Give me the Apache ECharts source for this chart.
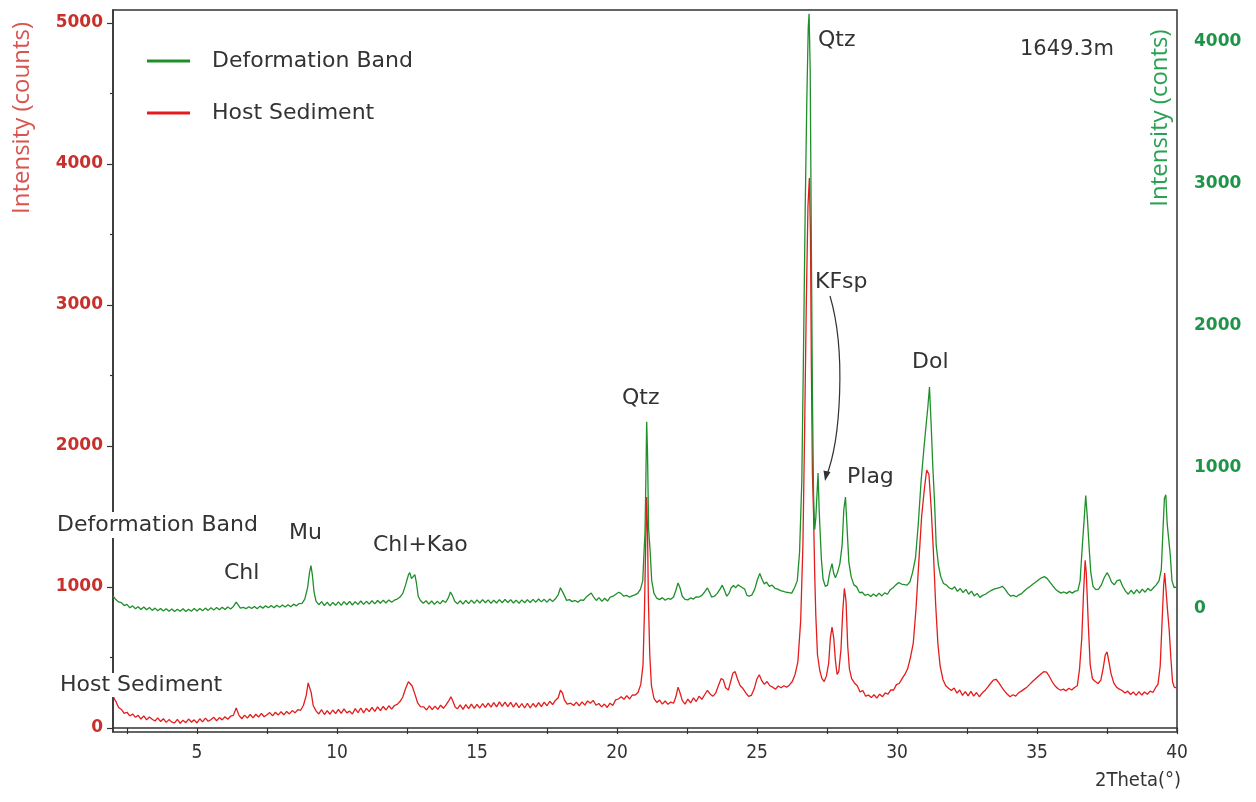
<!DOCTYPE html>
<html>
<head>
<meta charset="utf-8">
<script src="https://cdn.jsdelivr.net/npm/echarts@6/dist/echarts.min.js"></script>
<style>html,body{margin:0;padding:0;background:#fff}#chart{width:1256px;height:802px}</style>
</head>
<body>
<div id="chart"></div>
<script>
// ---- data (2Theta in degrees, intensity in counts) ----
const xTickValues = [2.5,5,7.5,10,12.5,15,17.5,20,22.5,25,27.5,30,32.5,35,37.5,40];
const xLabelValues = [5,10,15,20,25,30,35,40];
const leftLabelValues = [0,1000,2000,3000,4000,5000];
const leftMinorValues = [500,1500,2500,3500,4500];
const rightLabelValues = [0,1000,2000,3000,4000];

// Host Sediment (left axis)
const hostPattern = [
[2.00,234],[2.05,205],[2.10,190],[2.20,146],[2.30,132],[2.40,104],[2.50,112],[2.60,86],[2.70,100],[2.80,76],[2.90,90],
[3.00,64],[3.10,86],[3.20,58],[3.30,78],[3.40,62],[3.50,50],[3.60,72],[3.70,46],[3.80,66],[3.90,40],
[4.00,60],[4.10,42],[4.20,36],[4.30,62],[4.40,34],[4.50,56],[4.60,38],[4.70,64],[4.80,42],[4.90,58],
[5.00,36],[5.10,66],[5.20,44],[5.30,70],[5.40,48],[5.50,60],[5.60,76],[5.70,52],[5.80,74],[5.90,58],
[6.00,80],[6.10,62],[6.20,84],[6.30,90],[6.40,142],[6.45,128],[6.50,90],[6.60,66],[6.70,92],[6.80,70],[6.90,96],
[7.00,72],[7.10,98],[7.20,78],[7.30,104],[7.40,80],[7.50,94],[7.60,110],[7.70,86],[7.80,112],[7.90,92],
[8.00,116],[8.10,94],[8.20,118],[8.30,100],[8.40,124],[8.50,108],[8.60,130],[8.70,126],[8.80,160],[8.90,230],
[8.97,320],[9.02,330],[9.08,250],[9.15,160],[9.25,122],[9.35,100],[9.45,130],[9.55,96],[9.65,124],[9.75,98],[9.85,128],[9.95,102],
[10.05,132],[10.15,104],[10.25,136],[10.35,108],[10.45,120],[10.55,100],[10.65,138],[10.75,110],[10.85,142],[10.95,108],
[11.05,140],[11.15,116],[11.25,146],[11.35,118],[11.45,150],[11.55,124],[11.65,154],[11.75,128],[11.85,158],[11.95,134],
[12.05,160],[12.15,168],[12.25,188],[12.35,220],[12.45,280],[12.55,328],[12.62,320],[12.68,300],[12.74,290],[12.80,230],[12.88,178],[12.98,152],
[13.10,150],[13.20,128],[13.30,158],[13.40,130],[13.50,156],[13.60,132],[13.70,162],[13.80,140],[13.90,166],
[14.00,196],[14.07,222],[14.14,190],[14.22,150],[14.30,136],[14.40,164],[14.50,132],[14.60,166],[14.70,138],[14.80,170],[14.90,140],
[15.00,168],[15.10,142],[15.20,174],[15.30,146],[15.40,176],[15.50,148],[15.60,180],[15.70,150],[15.80,186],[15.90,154],
[16.00,184],[16.10,152],[16.20,182],[16.30,148],[16.40,178],[16.50,144],[16.60,174],[16.70,142],[16.80,176],[16.90,142],
[17.00,174],[17.10,148],[17.20,180],[17.30,152],[17.40,184],[17.50,158],[17.60,190],[17.70,166],[17.80,196],[17.90,215],
[17.98,268],[18.05,250],[18.12,200],[18.22,170],[18.35,176],[18.45,160],[18.55,184],[18.65,158],[18.75,186],[18.85,162],[18.95,192],
[19.05,176],[19.15,196],[19.25,162],[19.35,174],[19.45,150],[19.55,170],[19.65,146],[19.75,176],[19.85,160],[19.95,200],
[20.05,206],[20.15,222],[20.25,204],[20.35,230],[20.45,206],[20.55,236],[20.65,234],[20.75,252],[20.85,310],[20.93,450],[20.98,820],
[21.02,1250],[21.06,1638],[21.09,1400],[21.12,920],[21.17,520],[21.23,300],[21.32,210],[21.42,182],[21.52,198],[21.62,170],[21.72,192],[21.82,168],[21.92,184],
[22.02,176],[22.10,220],[22.18,290],[22.25,250],[22.33,196],[22.43,170],[22.53,206],[22.63,178],[22.73,214],[22.83,188],[22.93,226],
[23.03,204],[23.13,236],[23.23,268],[23.33,240],[23.43,226],[23.53,250],[23.62,300],[23.72,352],[23.80,340],[23.88,286],[23.98,270],
[24.06,330],[24.14,390],[24.22,400],[24.30,350],[24.40,300],[24.50,280],[24.60,250],[24.70,224],[24.80,232],[24.90,278],
[25.00,350],[25.08,378],[25.16,340],[25.26,310],[25.36,330],[25.46,300],[25.56,290],[25.66,276],[25.76,298],[25.86,286],[25.96,300],
[26.06,290],[26.16,306],[26.26,330],[26.36,380],[26.46,470],[26.56,760],[26.64,1300],[26.70,2100],[26.76,3000],[26.82,3700],[26.87,3900],
[26.91,3500],[26.94,2600],[26.98,1800],[27.02,1520],[27.06,1100],[27.10,800],[27.16,520],[27.24,410],[27.32,350],[27.40,330],[27.48,370],
[27.56,460],[27.62,640],[27.68,716],[27.74,640],[27.80,480],[27.86,380],[27.92,400],[28.00,560],[28.06,820],[28.12,990],[28.18,900],
[28.24,580],[28.30,420],[28.38,350],[28.48,320],[28.58,300],[28.68,256],[28.78,266],[28.88,226],[28.98,234],
[29.08,216],[29.18,236],[29.28,212],[29.38,240],[29.48,222],[29.58,250],[29.68,240],[29.78,270],[29.88,270],[29.98,308],
[30.08,316],[30.18,350],[30.28,380],[30.38,420],[30.48,500],[30.58,600],[30.68,850],[30.78,1180],[30.88,1500],[30.98,1700],
[31.06,1830],[31.14,1800],[31.22,1560],[31.30,1250],[31.38,880],[31.46,600],[31.54,440],[31.64,345],[31.74,300],[31.84,282],[31.94,266],
[32.04,284],[32.14,248],[32.24,270],[32.34,232],[32.44,258],[32.54,228],[32.64,260],[32.74,226],[32.84,252],[32.94,222],
[33.04,248],[33.14,266],[33.24,290],[33.34,316],[33.44,340],[33.54,346],[33.64,320],[33.74,290],[33.84,262],[33.94,240],
[34.04,222],[34.14,236],[34.24,226],[34.34,250],[34.44,262],[34.54,276],[34.64,290],[34.74,310],[34.84,330],[34.94,348],
[35.04,366],[35.14,384],[35.24,400],[35.34,396],[35.44,366],[35.54,330],[35.64,300],[35.74,280],[35.84,268],[35.94,276],
[36.04,264],[36.14,282],[36.24,270],[36.34,288],[36.44,300],[36.52,420],[36.60,640],[36.66,950],[36.72,1190],[36.76,1100],[36.80,900],
[36.84,700],[36.90,450],[36.98,350],[37.08,330],[37.18,316],[37.28,340],[37.36,420],[37.44,520],[37.50,540],[37.56,480],[37.64,390],
[37.74,320],[37.84,290],[37.94,276],[38.04,266],[38.14,248],[38.24,262],[38.34,238],[38.44,256],[38.54,232],[38.64,258],[38.74,234],
[38.84,256],[38.94,240],[39.04,262],[39.14,252],[39.24,288],[39.32,310],[39.40,440],[39.46,720],[39.52,1000],[39.56,1100],[39.60,1000],
[39.66,840],[39.72,700],[39.78,500],[39.84,330],[39.90,290],[40.00,284]
];

// Deformation Band (right axis)
const bandPattern = [
[2.00,92],[2.05,78],[2.10,66],[2.20,50],[2.30,44],[2.40,24],[2.50,32],[2.60,8],[2.70,22],[2.80,2],[2.90,16],
[3.00,-4],[3.10,14],[3.20,-6],[3.30,10],[3.40,-10],[3.50,6],[3.60,-12],[3.70,4],[3.80,-14],[3.90,2],
[4.00,-16],[4.10,0],[4.20,-18],[4.30,-2],[4.40,-16],[4.50,2],[4.60,-18],[4.70,-2],[4.80,-16],[4.90,4],
[5.00,-14],[5.10,4],[5.20,-12],[5.30,6],[5.40,-10],[5.50,8],[5.60,-8],[5.70,10],[5.80,-6],[5.90,12],
[6.00,-4],[6.10,14],[6.20,0],[6.30,18],[6.40,48],[6.46,40],[6.55,6],[6.65,12],[6.75,2],[6.85,16],[6.95,4],
[7.05,18],[7.15,2],[7.25,20],[7.35,6],[7.45,22],[7.55,8],[7.65,24],[7.75,8],[7.85,26],[7.95,12],
[8.05,28],[8.15,14],[8.25,30],[8.35,16],[8.45,34],[8.55,22],[8.65,38],[8.75,40],[8.85,70],[8.95,150],
[9.02,260],[9.07,306],[9.12,240],[9.18,120],[9.25,56],[9.35,30],[9.45,52],[9.55,24],[9.65,48],[9.75,22],[9.85,46],[9.95,26],
[10.05,50],[10.15,26],[10.25,52],[10.35,30],[10.45,54],[10.55,28],[10.65,52],[10.75,32],[10.85,56],[10.95,32],
[11.05,54],[11.15,34],[11.25,58],[11.35,36],[11.45,60],[11.55,40],[11.65,62],[11.75,42],[11.85,64],[11.95,48],
[12.05,62],[12.15,70],[12.25,84],[12.35,110],[12.45,170],[12.55,240],[12.60,256],[12.66,214],[12.72,216],[12.78,242],[12.84,180],[12.90,90],[12.98,60],
[13.08,40],[13.18,58],[13.28,34],[13.38,56],[13.48,32],[13.58,54],[13.68,36],[13.78,60],[13.88,46],[13.98,80],
[14.05,120],[14.12,96],[14.20,56],[14.30,36],[14.40,58],[14.50,34],[14.60,60],[14.70,38],[14.80,62],[14.90,40],
[15.00,64],[15.10,42],[15.20,66],[15.30,44],[15.40,64],[15.50,40],[15.60,62],[15.70,42],[15.80,66],[15.90,44],
[16.00,68],[16.10,46],[16.20,66],[16.30,42],[16.40,62],[16.50,40],[16.60,64],[16.70,44],[16.80,66],[16.90,46],
[17.00,68],[17.10,48],[17.20,70],[17.30,50],[17.40,68],[17.50,48],[17.60,70],[17.70,52],[17.80,72],[17.90,100],
[17.98,150],[18.05,140],[18.12,96],[18.20,60],[18.30,66],[18.40,52],[18.50,60],[18.60,48],[18.70,64],[18.80,60],[18.90,84],
[19.00,100],[19.08,112],[19.16,86],[19.26,60],[19.36,80],[19.46,54],[19.56,76],[19.66,56],[19.76,84],[19.86,90],[19.96,104],
[20.06,118],[20.14,110],[20.24,90],[20.34,96],[20.44,84],[20.54,92],[20.64,100],[20.74,110],[20.84,140],[20.92,200],[20.97,420],
[21.00,540],[21.03,900],[21.06,1320],[21.09,1100],[21.13,560],[21.18,420],[21.24,200],[21.32,110],[21.42,76],[21.52,66],[21.62,80],
[21.72,62],[21.82,74],[21.92,68],[22.02,84],[22.10,130],[22.18,184],[22.25,150],[22.33,90],[22.43,68],[22.53,64],[22.63,78],
[22.73,70],[22.83,86],[22.93,84],[23.03,96],[23.13,120],[23.23,148],[23.30,120],[23.38,84],[23.48,90],[23.58,110],[23.68,140],
[23.76,168],[23.84,130],[23.92,90],[24.00,110],[24.08,150],[24.16,166],[24.24,150],[24.32,170],[24.40,160],[24.48,150],[24.56,140],
[24.64,96],[24.72,90],[24.82,100],[24.92,140],[25.02,210],[25.10,250],[25.18,210],[25.26,176],[25.34,190],[25.44,160],[25.54,168],
[25.64,146],[25.74,140],[25.84,130],[25.94,124],[26.04,118],[26.14,116],[26.24,112],[26.34,150],[26.44,200],[26.52,400],[26.60,900],
[26.66,1800],[26.72,2800],[26.78,3600],[26.83,4100],[26.86,4200],[26.90,3800],[26.94,2600],[26.98,1500],[27.02,800],[27.06,560],
[27.10,640],[27.14,800],[27.18,960],[27.22,700],[27.26,520],[27.30,350],[27.36,210],[27.44,160],[27.52,168],[27.60,260],[27.68,320],
[27.74,250],[27.80,220],[27.88,260],[27.96,320],[28.04,450],[28.10,700],[28.16,790],[28.22,560],[28.28,330],[28.36,230],[28.46,170],
[28.56,156],[28.66,116],[28.76,118],[28.86,96],[28.96,104],[29.06,88],[29.16,106],[29.26,90],[29.36,112],[29.46,92],[29.56,114],
[29.66,104],[29.76,136],[29.86,150],[29.96,170],[30.06,186],[30.16,176],[30.26,172],[30.36,168],[30.46,190],[30.56,260],[30.66,360],
[30.76,600],[30.86,900],[30.96,1130],[31.04,1300],[31.10,1420],[31.16,1566],[31.22,1300],[31.28,1000],[31.34,760],[31.40,450],
[31.48,310],[31.56,230],[31.66,180],[31.76,170],[31.86,150],[31.96,140],[32.06,156],[32.16,124],[32.26,144],[32.36,116],[32.46,138],
[32.56,104],[32.66,126],[32.76,92],[32.86,110],[32.96,82],[33.06,96],[33.16,104],[33.26,118],[33.36,130],[33.46,140],[33.56,146],
[33.66,150],[33.76,160],[33.86,140],[33.96,110],[34.06,90],[34.16,96],[34.26,86],[34.36,100],[34.46,110],[34.56,130],[34.66,146],
[34.76,160],[34.86,176],[34.96,190],[35.06,206],[35.16,220],[35.26,228],[35.36,216],[35.46,190],[35.56,164],[35.66,140],[35.76,124],
[35.86,112],[35.96,120],[36.06,110],[36.16,124],[36.26,112],[36.36,126],[36.46,130],[36.54,200],[36.62,450],[36.68,620],[36.74,800],
[36.80,640],[36.86,440],[36.92,260],[37.00,160],[37.10,136],[37.20,140],[37.30,170],[37.40,220],[37.50,256],[37.58,230],[37.66,190],
[37.76,170],[37.86,200],[37.96,206],[38.06,160],[38.16,126],[38.26,104],[38.36,132],[38.46,106],[38.56,136],[38.66,112],[38.76,140],
[38.86,118],[38.96,146],[39.06,128],[39.16,150],[39.26,170],[39.36,200],[39.44,280],[39.50,560],[39.55,780],[39.60,806],[39.65,600],
[39.70,500],[39.76,380],[39.82,200],[39.90,150],[40.00,155]
];

const seriesNames = ['Deformation Band','Host Sediment'];
const peakLabels = ['Qtz','KFsp','Dol','Plag','Qtz','Mu','Chl+Kao','Chl'];
const sampleDepth = '1649.3m';

// ---- chart ----
const chart = echarts.init(document.getElementById('chart'));
const FONT = 'DejaVu Sans';
const NARROW = '"DejaVu Sans Condensed", "Liberation Sans Narrow", Roboto, sans-serif';
const RED = '#e41c1c', GREEN = '#1f8f2a';
const plain = v => String(v);
const txt = (t, x, y, extra) => ({
  type:'text', z:100,
  style:Object.assign({text:t, x:x, y:y, fill:'#333', font:'22px "' + FONT + '"', align:'left', verticalAlign:'middle'}, extra||{})
});

chart.setOption({
  animation:false,
  backgroundColor:'#fff',
  grid:{left:113, right:79, top:10, bottom:70, show:true, borderColor:'#333', borderWidth:1.5, backgroundColor:'transparent'},
  legend:{
    data:seriesNames, orient:'vertical', left:142, top:45, icon:'rect', itemWidth:43, itemHeight:3, itemGap:30,
    textStyle:{fontFamily:FONT, fontSize:22, lineHeight:22, color:'#333', padding:[0,0,0,17]}
  },
  xAxis:{
    type:'value', min:2, max:40,
    axisLine:{show:true, lineStyle:{color:'#333', width:1.5}},
    axisTick:{show:true, customValues:xTickValues, length:6, lineStyle:{color:'#333', width:1.2}},
    axisLabel:{customValues:xLabelValues, formatter:plain, fontFamily:NARROW, fontSize:19, color:'#333', margin:12},
    splitLine:{show:false}
  },
  yAxis:[
    {type:'value', position:'left', min:-28, max:5092,
     axisLine:{show:true, lineStyle:{color:'#333', width:1.5}},
     axisTick:{show:true, customValues:leftLabelValues, length:6, lineStyle:{color:'#333', width:1.2}},
     axisLabel:{customValues:leftLabelValues, formatter:plain, fontFamily:FONT, fontWeight:'bold', fontSize:17, color:'#c8302c', margin:10},
     splitLine:{show:false}},
    {type:'value', position:'right', min:-868, max:4226,
     axisLine:{show:false}, axisTick:{show:false},
     axisLabel:{customValues:rightLabelValues, formatter:plain, fontFamily:FONT, fontWeight:'bold', fontSize:17, color:'#1e9448', margin:17},
     splitLine:{show:false}},
    {type:'value', position:'left', min:-28, max:5092,
     axisLine:{show:false},
     axisTick:{show:true, customValues:leftMinorValues, length:3, lineStyle:{color:'#333', width:1.2}},
     axisLabel:{show:false}, splitLine:{show:false}}
  ],
  series:[
    {name:seriesNames[1], type:'line', yAxisIndex:0, data:hostPattern, showSymbol:false, symbol:'none',
     lineStyle:{color:RED, width:1.3}, itemStyle:{color:RED}, z:2},
    {name:seriesNames[0], type:'line', yAxisIndex:1, data:bandPattern, showSymbol:false, symbol:'none',
     lineStyle:{color:GREEN, width:1.3}, itemStyle:{color:GREEN}, z:3}
  ],
  graphic:[
    txt(sampleDepth, 1020, 50, {font:'21px "' + FONT + '"'}),
    txt(peakLabels[0], 818, 40),
    txt(peakLabels[1], 815, 282),
    txt(peakLabels[2], 912, 362),
    txt(peakLabels[3], 847, 477),
    txt(peakLabels[4], 622, 398),
    txt(peakLabels[5], 289, 533),
    txt(peakLabels[6], 373, 545),
    txt(peakLabels[7], 224, 573),
    txt(seriesNames[0], 57, 525, {backgroundColor:'#fff', padding:[2,0,2,0]}),
    txt(seriesNames[1], 60, 685, {backgroundColor:'#fff', padding:[1,0,1,0]}),
    {type:'text', z:100, x:22, y:118, rotation:Math.PI/2,
     style:{text:'Intensity (counts)', x:0, y:0, align:'center', verticalAlign:'middle', fill:'#d9534f', font:'24px "Open Sans"'}},
    {type:'text', z:100, x:1160, y:118, rotation:Math.PI/2,
     style:{text:'Intensity (conts)', x:0, y:0, align:'center', verticalAlign:'middle', fill:'#2aa055', font:'24px "Open Sans"'}},
    {type:'text', z:100, style:{text:'2Theta(°)', x:1138, y:781, align:'center', verticalAlign:'middle', fill:'#333', font:'20px ' + NARROW}},
    {type:'bezierCurve', z:100, shape:{x1:830, y1:296, cpx1:846, cpy1:350, cpx2:841, cpy2:440, x2:826, y2:477},
     style:{stroke:'#333', lineWidth:1.2, fill:null}},
    {type:'polygon', z:100, shape:{points:[[825,481],[830.5,472],[823.5,470.5]]}, style:{fill:'#333'}}
  ]
});
</script>
</body>
</html>
